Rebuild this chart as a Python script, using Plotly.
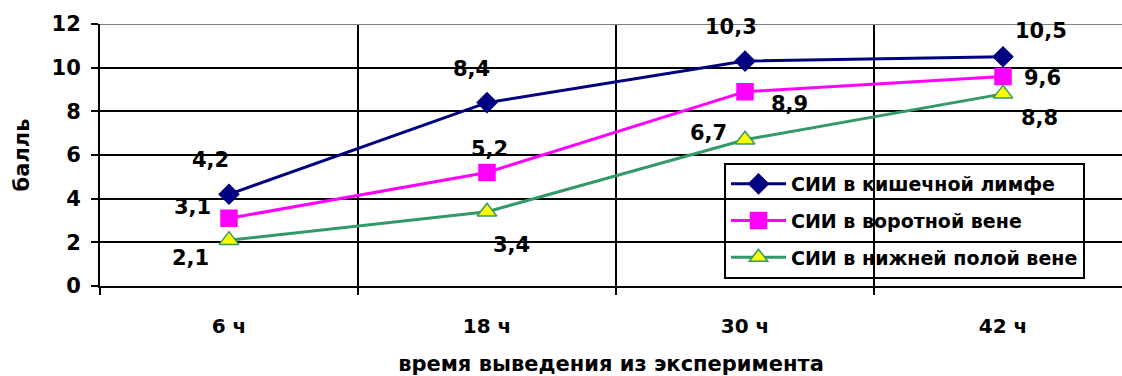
import plotly.graph_objects as go

categories = ["6 ч", "18 ч", "30 ч", "42 ч"]
series_names = ["СИИ в кишечной лимфе", "СИИ в воротной вене", "СИИ в нижней полой вене"]
lymph = [4.2, 8.4, 10.3, 10.5]
portal = [3.1, 5.2, 8.9, 9.6]
ivc = [2.1, 3.4, 6.7, 8.8]
y_ticks = [0, 2, 4, 6, 8, 10, 12]

# style: label offsets in px (dx, dy screen-down)
label_offsets = [
    [(-19, -34), (-16, -34), (-14, -34), (38, -26)],
    [(-37, -11), (2, -23), (44, 12), (39, 2)],
    [(-39, 18), (24, 33), (-37, -7), (36, 24)],
]
styles = [
    dict(color="#000080", symbol="diamond", size=15, mfill="#000080", mline="#000080"),
    dict(color="#FF00FF", symbol="square", size=16, mfill="#FF00FF", mline="#FF00FF"),
    dict(color="#339966", symbol="triangle-up", size=17, mfill="#FFFF00", mline="#339966"),
]

FONT = "DejaVu Sans, Arial, sans-serif"
fig = go.Figure()
xs = list(range(len(categories)))
annotations = []
for i, (name, vals) in enumerate(zip(series_names, [lymph, portal, ivc])):
    st = styles[i]
    fig.add_trace(go.Scatter(
        x=xs, y=vals, name=name, mode="lines+markers", legendgroup=f"g{i}",
        line=dict(color=st["color"], width=3),
        marker=dict(symbol=st["symbol"], size=st["size"], color=st["mfill"],
                    line=dict(color=st["mline"], width=1.5)),
    ))
    for j, v in enumerate(vals):
        dx, dy = label_offsets[i][j]
        annotations.append(dict(
            x=xs[j], y=v, xref="x", yref="y", showarrow=False,
            text=f"{v:.1f}".replace(".", ","), xshift=dx, yshift=-dy,
            font=dict(family=FONT, size=21, color="black", weight="bold"),
        ))

fig.update_layout(
    width=1122, height=376,
    margin=dict(l=100, r=0, t=24, b=90),
    paper_bgcolor="white", plot_bgcolor="white",
    font=dict(family=FONT, color="black"),
    annotations=annotations,
    showlegend=True,
    legend=dict(
        x=(724 - 100) / 1022, y=(286 - 163) / 262, xanchor="left", yanchor="top",
        bgcolor="rgba(0,0,0,0)", bordercolor="black", borderwidth=2,
        font=dict(family=FONT, size=19, color="black", weight="bold"),
        tracegroupgap=9, itemwidth=55,
    ),
    shapes=[dict(type="line", xref="paper", yref="y", x0=0, x1=1, y0=12, y1=12,
                 line=dict(color="#808080", width=2), layer="above")],
)
fig.update_xaxes(
    range=[-0.5, -0.5 + 1022 / 258],
    tickvals=xs, ticktext=categories, ticks="", showgrid=False,
    tickfont=dict(family=FONT, size=20, color="black", weight="bold"),
    ticklabelstandoff=21,
    showline=True, linecolor="black", linewidth=2,
    minor=dict(tickvals=[-0.5, 0.5, 1.5, 2.5], showgrid=True, gridcolor="black", gridwidth=2,
               ticks="outside", ticklen=7, tickcolor="black", tickwidth=2),
    title=dict(text="время выведения из эксперимента", standoff=20,
               font=dict(family=FONT, size=21, color="black", weight="bold")),
    zeroline=False,
)
fig.update_yaxes(
    range=[0, 12], tickvals=y_ticks, ticks="outside", ticklen=7, tickcolor="black", tickwidth=2,
    showgrid=True, gridcolor="black", gridwidth=2,
    showline=True, linecolor="black", linewidth=2, zeroline=False,
    tickfont=dict(family=FONT, size=21, color="black", weight="bold"),
    ticklabelstandoff=6,
    title=dict(text="балль", standoff=16,
               font=dict(family=FONT, size=21, color="black", weight="bold")),
)
fig.write_html("out.html")
